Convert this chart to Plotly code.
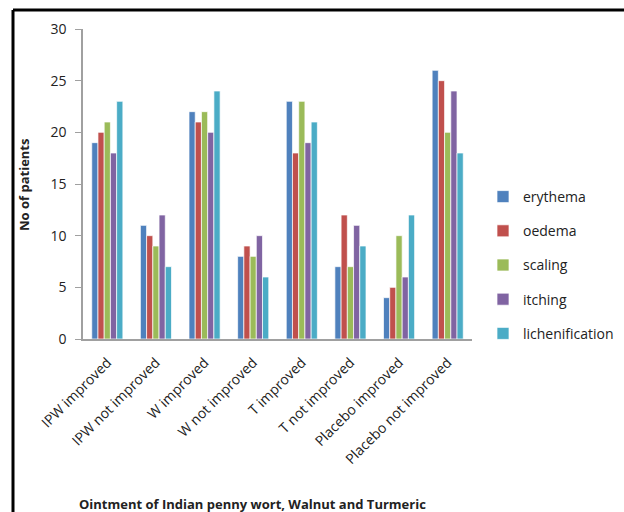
import plotly.graph_objects as go

categories = ["IPW improved", "IPW not improved", "W improved", "W not improved",
              "T improved", "T not improved", "Placebo improved", "Placebo not improved"]
erythema = [19, 11, 22, 8, 23, 7, 4, 26]
oedema = [20, 10, 21, 9, 18, 12, 5, 25]
scaling = [21, 9, 22, 8, 23, 7, 10, 20]
itching = [18, 12, 20, 10, 19, 11, 6, 24]
lichenification = [23, 7, 24, 6, 21, 9, 12, 18]

series = [("erythema", erythema, "#4F81BD"),
          ("oedema", oedema, "#C0504D"),
          ("scaling", scaling, "#9BBB59"),
          ("itching", itching, "#8064A2"),
          ("lichenification", lichenification, "#4BACC6")]

W, H = 624, 512
L, R, T, B = 83, 152, 29, 173
pw, ph = W - L - R, H - T - B

def px(x):
    return (x - L) / pw

def py(y):
    return (H - B - y) / ph

fig = go.Figure()
for name, vals, col in series:
    fig.add_trace(go.Bar(x=categories, y=vals, name=name, legendgroup=name,
                         marker=dict(color=col, line=dict(color="rgba(255,255,255,0.7)", width=1))))

font = "Open Sans, DejaVu Sans, sans-serif"
txt = "#222"
fig.update_layout(
    width=W, height=H,
    margin=dict(l=L, r=R, t=T, b=B, autoexpand=False),
    paper_bgcolor="white", plot_bgcolor="white",
    barmode="group", bargap=0.36, bargroupgap=0,
    font=dict(family=font, size=14, color=txt),
    showlegend=True,
    legend=dict(x=px(483), y=py(181), xanchor="left", yanchor="top",
                tracegroupgap=13, font=dict(size=14, color=txt),
                itemwidth=30, bgcolor="rgba(0,0,0,0)"),
    xaxis=dict(tickangle=-45, showline=True, linecolor="#A0A0A0", linewidth=2,
               ticks="", tickfont=dict(size=14, color=txt), showgrid=False,
               ticklabelstandoff=8, automargin=False),
    yaxis=dict(range=[0, 30], dtick=5, showline=True, linecolor="#A0A0A0", linewidth=1.5,
               ticks="outside", ticklen=6, tickcolor="#A0A0A0", showgrid=False,
               ticklabelstandoff=6, automargin=False,
               tickfont=dict(size=14, color=txt), zeroline=False),
    shapes=[
        dict(type="line", xref="paper", yref="paper", x0=px(13), x1=px(W + 5),
             y0=py(10), y1=py(10), line=dict(color="black", width=3)),
        dict(type="line", xref="paper", yref="paper", x0=px(13), x1=px(13),
             y0=py(10), y1=py(H + 5), line=dict(color="black", width=3)),
    ],
    annotations=[
        dict(text="<b>No of patients</b>", xref="paper", yref="paper",
             x=px(24), y=py(185), xanchor="center", yanchor="middle",
             textangle=-90, showarrow=False, font=dict(size=13, color=txt)),
        dict(text="<b>Ointment of Indian penny wort, Walnut and Turmeric</b>",
             xref="paper", yref="paper", x=px(252), y=py(504),
             xanchor="center", yanchor="middle", showarrow=False,
             font=dict(size=13, color=txt)),
    ],
)

fig.write_html("out.html")
